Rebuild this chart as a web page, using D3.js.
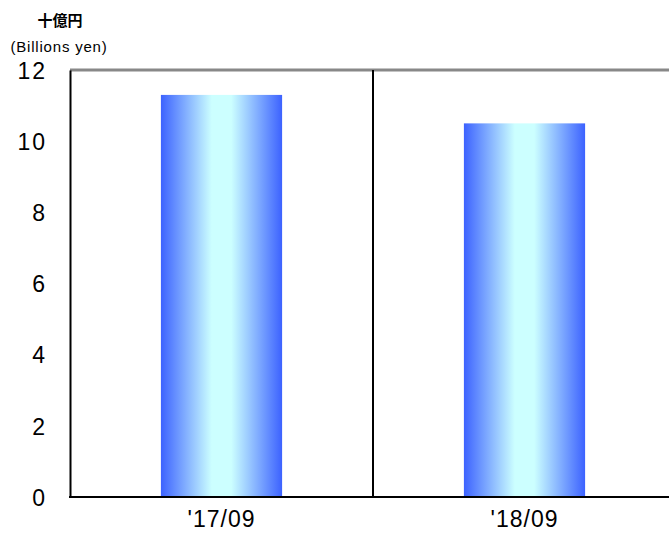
<!DOCTYPE html>
<html>
<head>
<meta charset="utf-8">
<script src="https://cdn.jsdelivr.net/npm/d3@7"></script>
<style>
  html, body { margin: 0; padding: 0; background: #fff; }
  svg { display: block; }
  text { font-family: "Liberation Sans", Arial, sans-serif; fill: #000; }
</style>
</head>
<body>
<div id="chart"></div>
<script>
const categories = ["'17/09", "'18/09"];
const values = [11.3, 10.5];
const yTicks = [0, 2, 4, 6, 8, 10, 12];
const unitLabel = "十億円";
const unitLabelEn = "(Billions yen)";

const W = 669, H = 535;
const svg = d3.select("#chart").append("svg").attr("width", W).attr("height", H);

const plotLeft = 70, plotRight = 676, plotTop = 70, plotBottom = 497;

const x = d3.scaleBand().domain(categories).range([plotLeft, plotRight])
  .paddingInner(0.6).paddingOuter(0.3);
const y = d3.scaleLinear().domain([0, 12]).range([plotBottom, plotTop]);

const defs = svg.append("defs");
const grad = defs.append("linearGradient").attr("id", "barGrad")
  .attr("x1", "0%").attr("x2", "100%").attr("y1", "0%").attr("y2", "0%");
grad.append("stop").attr("offset", "0%").attr("stop-color", "#3c62ff");
grad.append("stop").attr("offset", "42%").attr("stop-color", "#ccffff");
grad.append("stop").attr("offset", "58%").attr("stop-color", "#ccffff");
grad.append("stop").attr("offset", "100%").attr("stop-color", "#3c62ff");

// bars
svg.selectAll("rect.bar").data(values).join("rect")
  .attr("class", "bar")
  .attr("x", (d, i) => x(categories[i]))
  .attr("width", x.bandwidth())
  .attr("y", d => y(d))
  .attr("height", d => y(0) - y(d))
  .attr("fill", "url(#barGrad)");

// top border (gray)
svg.append("line").attr("x1", plotLeft).attr("x2", W).attr("y1", y(12)).attr("y2", y(12))
  .attr("stroke", "#888").attr("stroke-width", 3);

// divider between categories
const step = x.step();
const divX = x(categories[1]) - x.paddingInner() * step / 2;
svg.append("line")
  .attr("x1", divX).attr("x2", divX)
  .attr("y1", y(12)).attr("y2", y(0))
  .attr("stroke", "#000").attr("stroke-width", 2);

// y axis
const yAxis = svg.append("g").attr("transform", `translate(${plotLeft},0)`)
  .call(d3.axisLeft(y).tickValues(yTicks).tickSize(0).tickPadding(23).tickFormat(d3.format("d")));
yAxis.select(".domain").attr("stroke", "#000").attr("stroke-width", 2);
yAxis.selectAll("text").style("font-size", "23px").style("letter-spacing", "2px").attr("dy", "0.36em");

// x axis
const xAxis = svg.append("g").attr("transform", `translate(0,${plotBottom})`)
  .call(d3.axisBottom(x).tickSize(0).tickPadding(14));
xAxis.select(".domain").attr("stroke", "#000").attr("stroke-width", 2)
  .attr("d", `M${plotLeft - 1},0H${W}`);
xAxis.selectAll("text").style("font-size", "23px").style("letter-spacing", "1px").attr("dy", "0.71em");

// unit labels
svg.append("text").attr("x", 60).attr("y", 26).attr("text-anchor", "middle")
  .style("font-size", "15px").style("font-weight", "bold")
  .style("font-family", "'Noto Sans CJK JP', sans-serif").text(unitLabel);
svg.append("text").attr("x", 59).attr("y", 52).attr("text-anchor", "middle")
  .style("font-size", "15px").style("letter-spacing", "0.8px").text(unitLabelEn);
</script>
</body>
</html>
